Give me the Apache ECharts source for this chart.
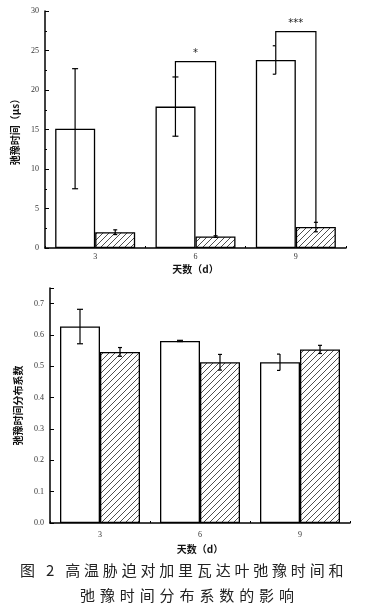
<!DOCTYPE html>
<html>
<head>
<meta charset="utf-8">
<script src="https://cdn.jsdelivr.net/npm/echarts@6/dist/echarts.min.js"></script>
<style>
html,body{margin:0;padding:0;background:#fff;}
#wrap{position:relative;width:366px;height:611px;}
#chart{position:absolute;left:0;top:0;width:366px;height:611px;}
.cap{position:absolute;white-space:nowrap;font-family:"Noto Sans CJK SC";font-size:15px;line-height:20px;color:#222;}
</style>
</head>
<body>
<div id="wrap">
<div id="chart"></div>
<div class="cap" style="left:20px;top:560px;letter-spacing:3.8px;">图 2 高温胁迫对加里瓦达叶弛豫时间和</div>
<div class="cap" style="left:80px;top:585px;letter-spacing:4.9px;">弛豫时间分布系数的影响</div>
</div>
<script>
// ---- data ----
const categories = ['3', '6', '9'];
// top panel: relaxation time (μs)
const topWhite = [15.1, 17.9, 23.8];
const topWhiteErr = [7.6, 3.75, 1.8];
const topHatch = [2.0, 1.45, 2.65];
const topHatchErr = [0.3, 0.1, 0.6];
const sigLevel = [null, 23.6, 27.4];
const sigMark = ['', '*', '***'];
const topMin = 0, topMax = 30, topInterval = 5;
// bottom panel: relaxation time distribution coefficient
const bottomWhite = [0.627, 0.581, 0.513];
const bottomWhiteErr = [0.055, 0.002, 0.026];
const bottomHatch = [0.546, 0.513, 0.554];
const bottomHatchErr = [0.014, 0.025, 0.013];
const bottomMin = 0, bottomMax = 0.75, bottomInterval = 0.1;

// ---- hatch pattern ----
const pc = document.createElement('canvas');
pc.width = 6; pc.height = 6;
const g = pc.getContext('2d');
g.fillStyle = '#fff'; g.fillRect(0, 0, 6, 6);
g.strokeStyle = '#222'; g.lineWidth = 0.8;
g.beginPath();
g.moveTo(0, 6); g.lineTo(6, 0);
g.moveTo(-1, 1); g.lineTo(1, -1);
g.moveTo(5, 7); g.lineTo(7, 5);
g.stroke();
const hatch = { image: pc, repeat: 'repeat' };

const chart = echarts.init(document.getElementById('chart'), null, { renderer: 'canvas' });

const black = '#000';
const labelFont = { fontFamily: 'Liberation Serif', fontSize: 8, color: '#333' };
const nameFont = { fontFamily: 'Noto Sans CJK SC', fontSize: 10, fontWeight: 'bold', color: '#111' };

function errRender(offset, cap, leftOnlyIdx) {
  return function (params, api) {
    const i = api.value(0), m = api.value(1), e = api.value(2);
    const band = api.size([1, 0])[0];
    const hi = api.coord([i, m + e]);
    const lo = api.coord([i, m - e]);
    const x = hi[0] + offset * band;
    const right = (i === leftOnlyIdx) ? 0 : cap;
    const st = { stroke: black, lineWidth: 1.2 };
    return {
      type: 'group',
      children: [
        { type: 'line', shape: { x1: x, y1: hi[1], x2: x, y2: lo[1] }, style: st },
        { type: 'line', shape: { x1: x - cap, y1: hi[1], x2: x + right, y2: hi[1] }, style: st },
        { type: 'line', shape: { x1: x - cap, y1: lo[1], x2: x + right, y2: lo[1] }, style: st }
      ]
    };
  };
}

const sigData = [];
const sigText = [];
categories.forEach((c, i) => {
  if (sigLevel[i] != null) {
    sigData.push([i, topWhite[i] + topWhiteErr[i], sigLevel[i], topHatch[i] + topHatchErr[i]]);
    sigText.push(sigMark[i]);
  }
});

function sigRender(params, api) {
  const i = api.value(0);
  const band = api.size([1, 0])[0];
  const l = api.coord([i, api.value(1)]);
  const lev = api.coord([i, api.value(2)]);
  const r = api.coord([i, api.value(3)]);
  const xl = l[0] - 0.2 * band, xr = r[0] + 0.2 * band;
  return {
    type: 'group',
    children: [
      { type: 'polyline', shape: { points: [[xl, l[1]], [xl, lev[1]], [xr, lev[1]], [xr, r[1]]] },
        style: { stroke: black, lineWidth: 1.2, fill: null } },
      { type: 'text', style: { text: sigText[params.dataIndex], x: (xl + xr) / 2, y: lev[1] - 3,
        align: 'center', verticalAlign: 'bottom', fontSize: 10, fontFamily: 'DejaVu Sans', fill: '#222' } }
    ]
  };
}

function xAxisCfg(gridIndex, nameGap, labelMargin) {
  return {
    type: 'category', gridIndex, data: categories, boundaryGap: true,
    name: '天数（d）', nameLocation: 'middle', nameGap, nameTextStyle: nameFont,
    axisLine: { lineStyle: { color: black, width: 1.5 } },
    axisTick: { show: true, inside: true, length: 2, lineStyle: { color: black } },
    axisLabel: Object.assign({ margin: labelMargin }, labelFont),
    splitLine: { show: false }
  };
}

const option = {
  animation: false,
  backgroundColor: '#fff',
  grid: [
    { left: 45, top: 11, width: 301, height: 237 },
    { left: 50, top: 288, width: 300, height: 235 }
  ],
  xAxis: [xAxisCfg(0, 16, 5), xAxisCfg(1, 21, 8)],
  yAxis: [
    {
      type: 'value', gridIndex: 0, min: topMin, max: topMax, interval: topInterval,
      name: '弛豫时间（μs）', nameLocation: 'middle', nameGap: 20, nameTextStyle: nameFont,
      axisLine: { show: true, lineStyle: { color: black, width: 1.5 } },
      axisTick: { show: true, inside: true, length: 4, lineStyle: { color: black } },
      minorTick: { show: true, splitNumber: 2, length: 2, lineStyle: { color: black } },
      axisLabel: Object.assign({ margin: 6 }, labelFont),
      splitLine: { show: false }
    },
    {
      type: 'value', gridIndex: 1, min: bottomMin, max: bottomMax, interval: bottomInterval,
      name: '弛豫时间分布系数', nameLocation: 'middle', nameGap: 23, nameTextStyle: nameFont,
      axisLine: { show: true, lineStyle: { color: black, width: 1.5 } },
      axisTick: { show: true, inside: true, length: 4, lineStyle: { color: black } },
      axisLabel: Object.assign({ margin: 6, formatter: v => (Math.abs(v * 10 - Math.round(v * 10)) < 1e-6 ? v.toFixed(1) : '') }, labelFont),
      splitLine: { show: false }
    }
  ],
  series: [
    { type: 'bar', xAxisIndex: 0, yAxisIndex: 0, data: topWhite, barWidth: 40, barGap: '0%',
      itemStyle: { color: '#fff', borderColor: black, borderWidth: 1.3 } },
    { type: 'bar', xAxisIndex: 0, yAxisIndex: 0, data: topHatch, barWidth: 40, barGap: '0%',
      itemStyle: { color: hatch, borderColor: black, borderWidth: 1.3 } },
    { type: 'bar', xAxisIndex: 1, yAxisIndex: 1, data: bottomWhite, barWidth: 40, barGap: '0%',
      itemStyle: { color: '#fff', borderColor: black, borderWidth: 1.3 } },
    { type: 'bar', xAxisIndex: 1, yAxisIndex: 1, data: bottomHatch, barWidth: 40, barGap: '0%',
      itemStyle: { color: hatch, borderColor: black, borderWidth: 1.3 } },
    { type: 'custom', xAxisIndex: 0, yAxisIndex: 0, z: 5, renderItem: errRender(-0.2, 3, 2),
      encode: { x: 0, y: 1 }, data: topWhite.map((v, i) => [i, v, topWhiteErr[i]]) },
    { type: 'custom', xAxisIndex: 0, yAxisIndex: 0, z: 5, renderItem: errRender(0.2, 2, -1),
      encode: { x: 0, y: 1 }, data: topHatch.map((v, i) => [i, v, topHatchErr[i]]) },
    { type: 'custom', xAxisIndex: 1, yAxisIndex: 1, z: 5, renderItem: errRender(-0.2, 3, 2),
      encode: { x: 0, y: 1 }, data: bottomWhite.map((v, i) => [i, v, bottomWhiteErr[i]]) },
    { type: 'custom', xAxisIndex: 1, yAxisIndex: 1, z: 5, renderItem: errRender(0.2, 2, -1),
      encode: { x: 0, y: 1 }, data: bottomHatch.map((v, i) => [i, v, bottomHatchErr[i]]) },
    { type: 'custom', xAxisIndex: 0, yAxisIndex: 0, z: 6, renderItem: sigRender,
      encode: { x: 0, y: 2 }, data: sigData }
  ]
};
chart.setOption(option);
</script>
</body>
</html>
